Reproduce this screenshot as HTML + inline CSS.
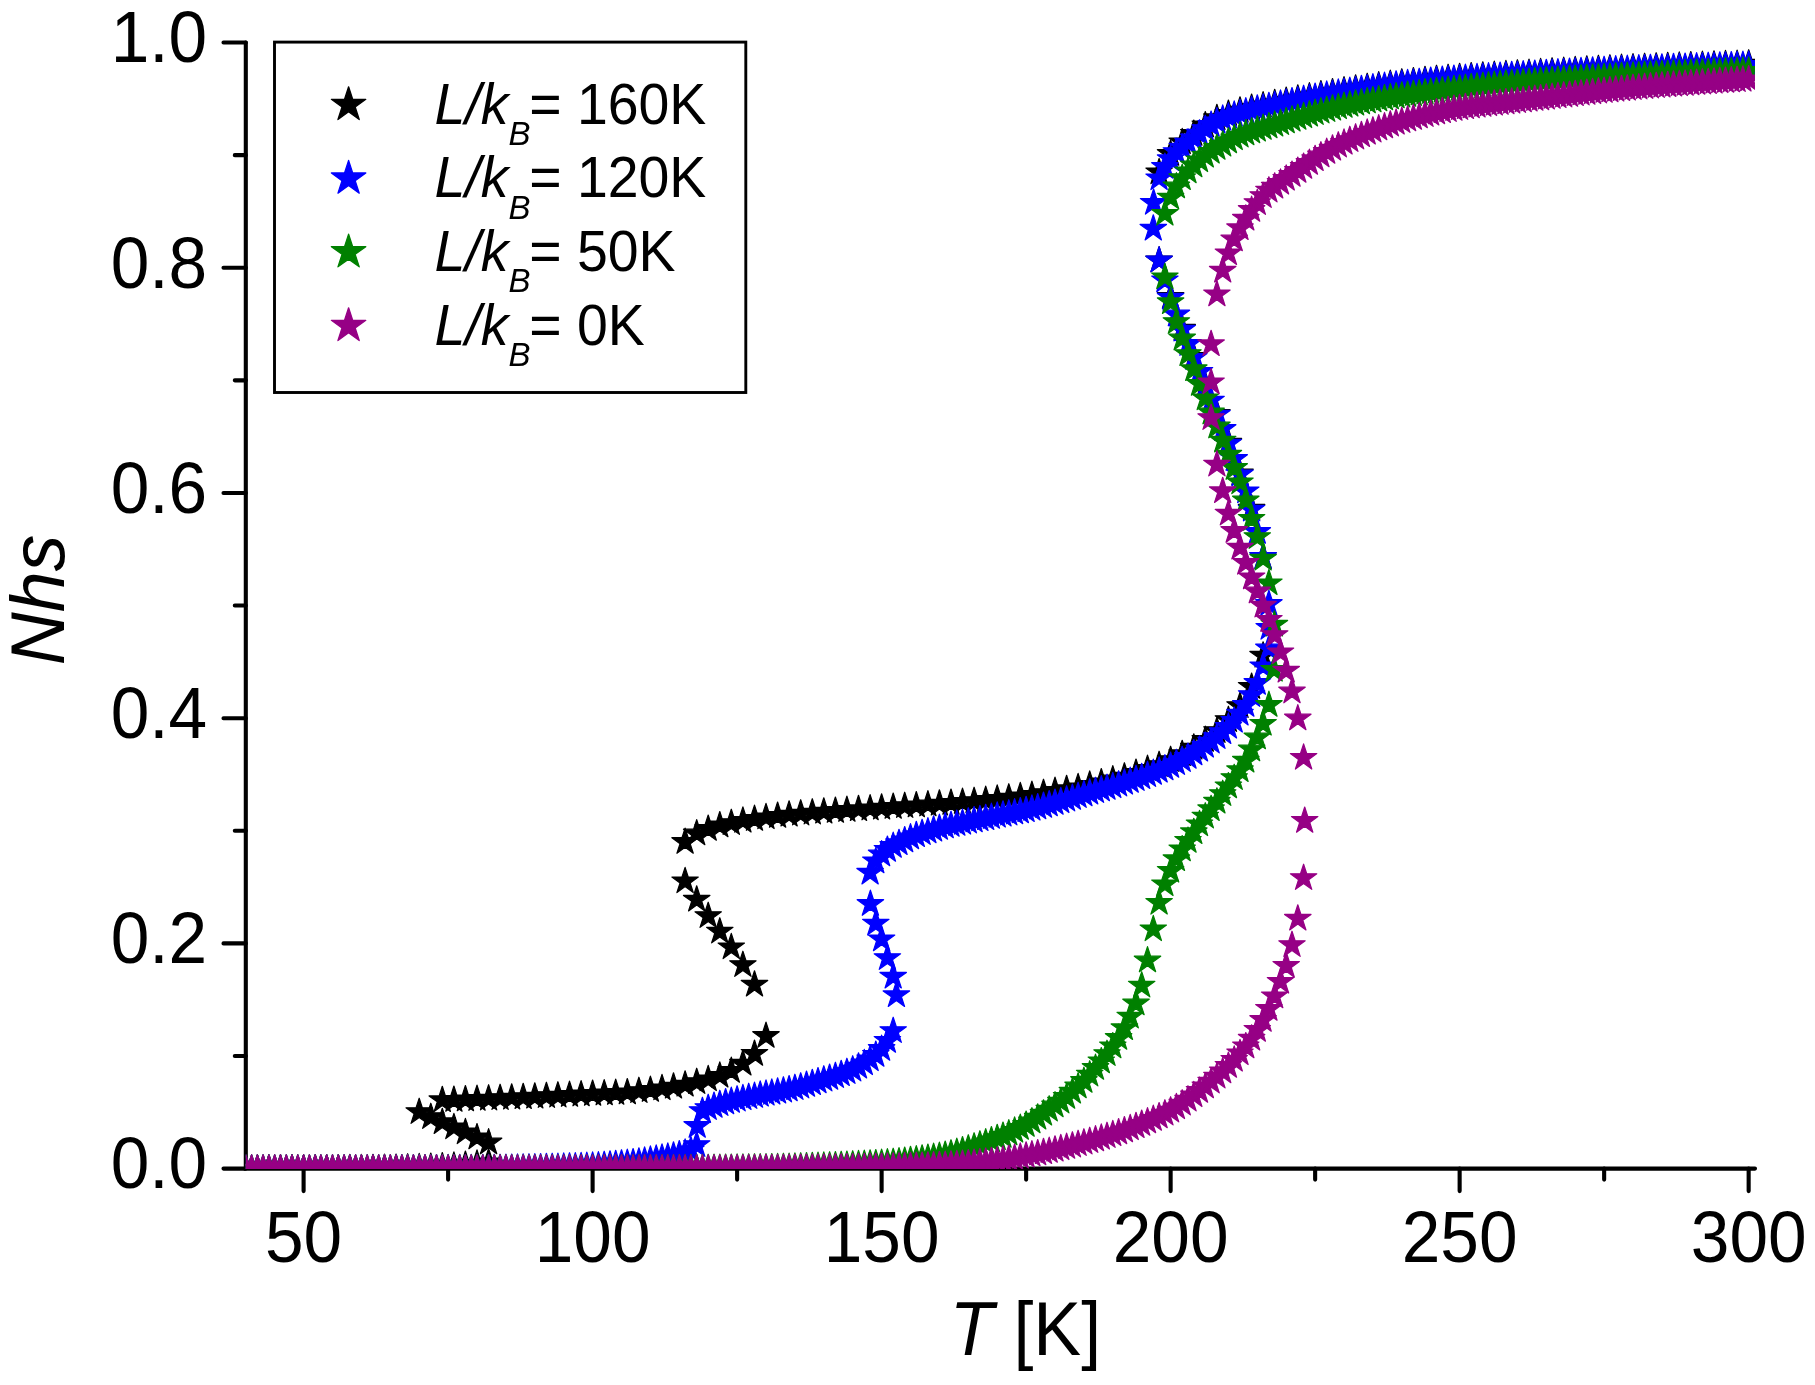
<!DOCTYPE html>
<html lang="en"><head><meta charset="utf-8"><title>Nhs vs T</title>
<style>html,body{margin:0;padding:0;background:#fff}svg{display:block;filter:blur(0.5px)}text{font-family:"Liberation Sans",Arial,Helvetica,sans-serif;fill:#000}.tk{font-size:69.4px}.tt{font-size:72.8px}.ty{font-size:73.3px}.lg{font-size:55.4px}.sb{font-size:33px}.i{font-style:italic}</style></head><body>
<svg width="1815" height="1385" viewBox="0 0 1815 1385">
<rect width="1815" height="1385" fill="#fff"/>
<defs><polygon id="s" points="0.00,-13.90 3.12,-4.30 13.22,-4.30 5.05,1.64 8.17,11.25 0.00,5.31 -8.17,11.25 -5.05,1.64 -13.22,-4.30 -3.12,-4.30"/><polygon id="L" points="0.00,-18.10 4.06,-5.59 17.21,-5.59 6.58,2.14 10.64,14.64 0.00,6.91 -10.64,14.64 -6.58,2.14 -17.21,-5.59 -4.06,-5.59"/><clipPath id="c"><rect x="245.8" y="42.54" width="1509.2" height="1126.56"/></clipPath></defs>
<g stroke="#000" stroke-width="4.1" stroke-linecap="round" fill="none">
<path d="M245.8 42.54V1168.6H1755.0" stroke-linejoin="miter"/>
<path d="M245.8 1168.60h-22.3M245.8 1055.99h-11.0M245.8 943.39h-22.3M245.8 830.78h-11.0M245.8 718.18h-22.3M245.8 605.57h-11.0M245.8 492.96h-22.3M245.8 380.36h-11.0M245.8 267.75h-22.3M245.8 155.15h-11.0M245.8 42.54h-22.3M303.60 1168.6v22.5M448.11 1168.6v11.0M592.61 1168.6v22.5M737.12 1168.6v11.0M881.62 1168.6v22.5M1026.13 1168.6v11.0M1170.63 1168.6v22.5M1315.14 1168.6v11.0M1459.64 1168.6v22.5M1604.15 1168.6v11.0M1748.65 1168.6v22.5"/>
</g>
<g clip-path="url(#c)" stroke-width="1.2" stroke-linejoin="round">
<g fill="#000000" stroke="#000000">
<use href="#s" x="245.8" y="1168.6"/><use href="#s" x="257.4" y="1168.6"/><use href="#s" x="268.9" y="1168.6"/><use href="#s" x="280.5" y="1168.5"/><use href="#s" x="292" y="1168.5"/><use href="#s" x="303.6" y="1168.5"/><use href="#s" x="315.2" y="1168.5"/><use href="#s" x="326.7" y="1168.4"/><use href="#s" x="338.3" y="1168.4"/><use href="#s" x="349.8" y="1168.3"/><use href="#s" x="361.4" y="1168.3"/><use href="#s" x="373" y="1168.2"/><use href="#s" x="384.5" y="1168"/><use href="#s" x="396.1" y="1167.9"/><use href="#s" x="407.6" y="1167.6"/><use href="#s" x="419.2" y="1167.3"/><use href="#s" x="430.8" y="1166.9"/><use href="#s" x="442.3" y="1166.4"/><use href="#s" x="453.9" y="1165.8"/><use href="#s" x="465.4" y="1164.9"/><use href="#s" x="477" y="1163.8"/><use href="#s" x="488.6" y="1162.3"/><use href="#s" x="488.6" y="1142.5"/><use href="#s" x="477" y="1137.4"/><use href="#s" x="465.4" y="1132.3"/><use href="#s" x="453.9" y="1127.3"/><use href="#s" x="442.3" y="1122.2"/><use href="#s" x="430.8" y="1117.1"/><use href="#s" x="419.2" y="1112.1"/><use href="#s" x="442.3" y="1100.2"/><use href="#s" x="453.9" y="1099.9"/><use href="#s" x="465.4" y="1099.4"/><use href="#s" x="477" y="1099"/><use href="#s" x="488.6" y="1098.6"/><use href="#s" x="500.1" y="1098.1"/><use href="#s" x="511.7" y="1097.7"/><use href="#s" x="523.2" y="1097.2"/><use href="#s" x="534.8" y="1096.7"/><use href="#s" x="546.4" y="1096.1"/><use href="#s" x="557.9" y="1095.6"/><use href="#s" x="569.5" y="1095"/><use href="#s" x="581.1" y="1094.5"/><use href="#s" x="592.6" y="1093.9"/><use href="#s" x="604.2" y="1093.5"/><use href="#s" x="615.7" y="1093"/><use href="#s" x="627.3" y="1092.4"/><use href="#s" x="638.9" y="1091.1"/><use href="#s" x="650.4" y="1090"/><use href="#s" x="662" y="1088.3"/><use href="#s" x="673.5" y="1086.7"/><use href="#s" x="685.1" y="1084.7"/><use href="#s" x="696.7" y="1082.1"/><use href="#s" x="708.2" y="1079.3"/><use href="#s" x="719.8" y="1075.8"/><use href="#s" x="731.3" y="1071"/><use href="#s" x="742.9" y="1063.7"/><use href="#s" x="754.5" y="1053.9"/><use href="#s" x="766" y="1036"/><use href="#s" x="754.5" y="984.7"/><use href="#s" x="742.9" y="965.1"/><use href="#s" x="731.3" y="947.3"/><use href="#s" x="719.8" y="931.6"/><use href="#s" x="708.2" y="916.1"/><use href="#s" x="696.7" y="899.7"/><use href="#s" x="685.1" y="881.3"/><use href="#s" x="685.1" y="842"/><use href="#s" x="696.7" y="833.5"/><use href="#s" x="708.2" y="828.9"/><use href="#s" x="719.8" y="825.4"/><use href="#s" x="731.3" y="823.1"/><use href="#s" x="742.9" y="820.8"/><use href="#s" x="754.5" y="819"/><use href="#s" x="766" y="817.3"/><use href="#s" x="777.6" y="815.9"/><use href="#s" x="789.1" y="814.7"/><use href="#s" x="800.7" y="813.6"/><use href="#s" x="812.3" y="812.6"/><use href="#s" x="823.8" y="811.7"/><use href="#s" x="835.4" y="810.9"/><use href="#s" x="846.9" y="810"/><use href="#s" x="858.5" y="809.2"/><use href="#s" x="870.1" y="808.5"/><use href="#s" x="881.6" y="807.7"/><use href="#s" x="893.2" y="806.9"/><use href="#s" x="904.7" y="806.1"/><use href="#s" x="916.3" y="805.4"/><use href="#s" x="927.9" y="804.5"/><use href="#s" x="939.4" y="803.7"/><use href="#s" x="951" y="802.9"/><use href="#s" x="962.5" y="802"/><use href="#s" x="974.1" y="801.1"/><use href="#s" x="985.7" y="800"/><use href="#s" x="997.2" y="798.8"/><use href="#s" x="1008.8" y="797.6"/><use href="#s" x="1020.3" y="796.3"/><use href="#s" x="1031.9" y="795"/><use href="#s" x="1043.5" y="793.1"/><use href="#s" x="1055" y="791"/><use href="#s" x="1066.6" y="789.2"/><use href="#s" x="1078.1" y="787.3"/><use href="#s" x="1089.7" y="784.8"/><use href="#s" x="1101.3" y="782.4"/><use href="#s" x="1112.8" y="779.5"/><use href="#s" x="1124.4" y="776.6"/><use href="#s" x="1136" y="772.9"/><use href="#s" x="1147.5" y="769"/><use href="#s" x="1159.1" y="765.1"/><use href="#s" x="1170.6" y="760.1"/><use href="#s" x="1182.2" y="754.2"/><use href="#s" x="1193.8" y="747.7"/><use href="#s" x="1205.3" y="740"/><use href="#s" x="1216.9" y="731.1"/><use href="#s" x="1228.4" y="720.1"/><use href="#s" x="1240" y="706.1"/><use href="#s" x="1251.6" y="686.9"/><use href="#s" x="1263.1" y="655.7"/><use href="#s" x="1263.1" y="557.1"/><use href="#s" x="1251.6" y="508.7"/><use href="#s" x="1240" y="473.5"/><use href="#s" x="1228.4" y="442.7"/><use href="#s" x="1216.9" y="413.8"/><use href="#s" x="1205.3" y="385.3"/><use href="#s" x="1193.8" y="356.9"/><use href="#s" x="1182.2" y="328.7"/><use href="#s" x="1170.6" y="296.8"/><use href="#s" x="1159.1" y="260.5"/><use href="#s" x="1159.1" y="172.3"/><use href="#s" x="1170.6" y="154"/><use href="#s" x="1182.2" y="142.3"/><use href="#s" x="1193.8" y="133.9"/><use href="#s" x="1205.3" y="125.4"/><use href="#s" x="1216.9" y="118.2"/><use href="#s" x="1228.4" y="113.9"/><use href="#s" x="1240" y="110.7"/><use href="#s" x="1251.6" y="107.9"/><use href="#s" x="1263.1" y="105.5"/><use href="#s" x="1274.7" y="103.2"/><use href="#s" x="1286.2" y="100.9"/><use href="#s" x="1297.8" y="98.7"/><use href="#s" x="1309.4" y="96.5"/><use href="#s" x="1320.9" y="94.4"/><use href="#s" x="1332.5" y="92.4"/><use href="#s" x="1344" y="90.5"/><use href="#s" x="1355.6" y="88.7"/><use href="#s" x="1367.2" y="87.1"/><use href="#s" x="1378.7" y="85.5"/><use href="#s" x="1390.3" y="84"/><use href="#s" x="1401.8" y="82.6"/><use href="#s" x="1413.4" y="81.4"/><use href="#s" x="1425" y="80.2"/><use href="#s" x="1436.5" y="79.1"/><use href="#s" x="1448.1" y="78.1"/><use href="#s" x="1459.6" y="77.2"/><use href="#s" x="1471.2" y="76.4"/><use href="#s" x="1482.8" y="75.7"/><use href="#s" x="1494.3" y="75"/><use href="#s" x="1505.9" y="74.3"/><use href="#s" x="1517.4" y="73.6"/><use href="#s" x="1529" y="73"/><use href="#s" x="1540.6" y="72.3"/><use href="#s" x="1552.1" y="71.6"/><use href="#s" x="1563.7" y="71"/><use href="#s" x="1575.2" y="70.3"/><use href="#s" x="1586.8" y="69.7"/><use href="#s" x="1598.4" y="69.1"/><use href="#s" x="1609.9" y="68.6"/><use href="#s" x="1621.5" y="68"/><use href="#s" x="1633" y="67.5"/><use href="#s" x="1644.6" y="67.1"/><use href="#s" x="1656.2" y="66.6"/><use href="#s" x="1667.7" y="66.2"/><use href="#s" x="1679.3" y="65.8"/><use href="#s" x="1690.8" y="65.4"/><use href="#s" x="1702.4" y="65"/><use href="#s" x="1714" y="64.7"/><use href="#s" x="1725.5" y="64.3"/><use href="#s" x="1737.1" y="64"/><use href="#s" x="1748.7" y="63.6"/>
</g>
<g fill="#0000ff" stroke="#0000ff">
<use href="#s" x="245.8" y="1168.6"/><use href="#s" x="251.6" y="1168.6"/><use href="#s" x="257.4" y="1168.6"/><use href="#s" x="263.1" y="1168.6"/><use href="#s" x="268.9" y="1168.6"/><use href="#s" x="274.7" y="1168.6"/><use href="#s" x="280.5" y="1168.6"/><use href="#s" x="286.3" y="1168.6"/><use href="#s" x="292" y="1168.6"/><use href="#s" x="297.8" y="1168.6"/><use href="#s" x="303.6" y="1168.6"/><use href="#s" x="309.4" y="1168.6"/><use href="#s" x="315.2" y="1168.6"/><use href="#s" x="320.9" y="1168.6"/><use href="#s" x="326.7" y="1168.6"/><use href="#s" x="332.5" y="1168.5"/><use href="#s" x="338.3" y="1168.5"/><use href="#s" x="344.1" y="1168.5"/><use href="#s" x="349.8" y="1168.5"/><use href="#s" x="355.6" y="1168.5"/><use href="#s" x="361.4" y="1168.5"/><use href="#s" x="367.2" y="1168.5"/><use href="#s" x="373" y="1168.5"/><use href="#s" x="378.7" y="1168.5"/><use href="#s" x="384.5" y="1168.5"/><use href="#s" x="390.3" y="1168.5"/><use href="#s" x="396.1" y="1168.5"/><use href="#s" x="401.9" y="1168.4"/><use href="#s" x="407.6" y="1168.4"/><use href="#s" x="413.4" y="1168.4"/><use href="#s" x="419.2" y="1168.4"/><use href="#s" x="425" y="1168.4"/><use href="#s" x="430.8" y="1168.4"/><use href="#s" x="436.5" y="1168.4"/><use href="#s" x="442.3" y="1168.4"/><use href="#s" x="448.1" y="1168.3"/><use href="#s" x="453.9" y="1168.3"/><use href="#s" x="459.7" y="1168.3"/><use href="#s" x="465.4" y="1168.3"/><use href="#s" x="471.2" y="1168.3"/><use href="#s" x="477" y="1168.3"/><use href="#s" x="482.8" y="1168.2"/><use href="#s" x="488.6" y="1168.2"/><use href="#s" x="494.3" y="1168.1"/><use href="#s" x="500.1" y="1168.1"/><use href="#s" x="505.9" y="1168"/><use href="#s" x="511.7" y="1167.9"/><use href="#s" x="517.5" y="1167.8"/><use href="#s" x="523.2" y="1167.7"/><use href="#s" x="529" y="1167.6"/><use href="#s" x="534.8" y="1167.5"/><use href="#s" x="540.6" y="1167.4"/><use href="#s" x="546.4" y="1167.2"/><use href="#s" x="552.2" y="1167.1"/><use href="#s" x="557.9" y="1167"/><use href="#s" x="563.7" y="1166.8"/><use href="#s" x="569.5" y="1166.6"/><use href="#s" x="575.3" y="1166.5"/><use href="#s" x="581.1" y="1166.3"/><use href="#s" x="586.8" y="1166"/><use href="#s" x="592.6" y="1165.8"/><use href="#s" x="598.4" y="1165.5"/><use href="#s" x="604.2" y="1165.1"/><use href="#s" x="610" y="1164.7"/><use href="#s" x="615.7" y="1164.2"/><use href="#s" x="621.5" y="1163.6"/><use href="#s" x="627.3" y="1163"/><use href="#s" x="633.1" y="1162.4"/><use href="#s" x="638.9" y="1161.7"/><use href="#s" x="644.6" y="1160.8"/><use href="#s" x="650.4" y="1159.8"/><use href="#s" x="656.2" y="1158.8"/><use href="#s" x="662" y="1157.8"/><use href="#s" x="667.8" y="1156.8"/><use href="#s" x="673.5" y="1155.7"/><use href="#s" x="679.3" y="1154.4"/><use href="#s" x="685.1" y="1152.8"/><use href="#s" x="690.9" y="1150.4"/><use href="#s" x="696.7" y="1145.1"/><use href="#s" x="697.2" y="1126"/><use href="#s" x="702.4" y="1111.1"/><use href="#s" x="708.2" y="1108.1"/><use href="#s" x="714" y="1105.9"/><use href="#s" x="719.8" y="1104.1"/><use href="#s" x="725.6" y="1102.4"/><use href="#s" x="731.3" y="1101"/><use href="#s" x="737.1" y="1099.6"/><use href="#s" x="742.9" y="1098.3"/><use href="#s" x="748.7" y="1097.1"/><use href="#s" x="754.5" y="1096"/><use href="#s" x="760.2" y="1094.8"/><use href="#s" x="766" y="1093.8"/><use href="#s" x="771.8" y="1092.8"/><use href="#s" x="777.6" y="1091.7"/><use href="#s" x="783.4" y="1090.6"/><use href="#s" x="789.1" y="1089.4"/><use href="#s" x="794.9" y="1088.1"/><use href="#s" x="800.7" y="1086.6"/><use href="#s" x="806.5" y="1084.9"/><use href="#s" x="812.3" y="1083.2"/><use href="#s" x="818" y="1081.4"/><use href="#s" x="823.8" y="1079.6"/><use href="#s" x="829.6" y="1077.9"/><use href="#s" x="835.4" y="1076.1"/><use href="#s" x="841.2" y="1074.2"/><use href="#s" x="846.9" y="1072.1"/><use href="#s" x="852.7" y="1069.6"/><use href="#s" x="858.5" y="1066.7"/><use href="#s" x="864.3" y="1063.3"/><use href="#s" x="870.1" y="1059.3"/><use href="#s" x="875.8" y="1054.9"/><use href="#s" x="881.6" y="1049"/><use href="#s" x="887.4" y="1040.9"/><use href="#s" x="893.2" y="1031.1"/><use href="#s" x="896.4" y="995.2"/><use href="#s" x="893.2" y="976.7"/><use href="#s" x="887.4" y="958.1"/><use href="#s" x="881.6" y="939.4"/><use href="#s" x="875.8" y="923.6"/><use href="#s" x="870.4" y="904"/><use href="#s" x="870.1" y="872.7"/><use href="#s" x="875.8" y="861.4"/><use href="#s" x="881.6" y="854.5"/><use href="#s" x="887.4" y="849.9"/><use href="#s" x="893.2" y="846"/><use href="#s" x="899" y="843.2"/><use href="#s" x="904.7" y="840.4"/><use href="#s" x="910.5" y="837.5"/><use href="#s" x="916.3" y="835.2"/><use href="#s" x="922.1" y="833.1"/><use href="#s" x="927.9" y="831.5"/><use href="#s" x="933.6" y="829.7"/><use href="#s" x="939.4" y="828"/><use href="#s" x="945.2" y="826.4"/><use href="#s" x="951" y="825"/><use href="#s" x="956.8" y="823.9"/><use href="#s" x="962.5" y="822.8"/><use href="#s" x="968.3" y="821.6"/><use href="#s" x="974.1" y="820.4"/><use href="#s" x="979.9" y="819.3"/><use href="#s" x="985.7" y="818.2"/><use href="#s" x="991.4" y="817"/><use href="#s" x="997.2" y="815.8"/><use href="#s" x="1003" y="814.7"/><use href="#s" x="1008.8" y="813.6"/><use href="#s" x="1014.6" y="812.5"/><use href="#s" x="1020.3" y="811.4"/><use href="#s" x="1026.1" y="810.2"/><use href="#s" x="1031.9" y="808.8"/><use href="#s" x="1037.7" y="807.4"/><use href="#s" x="1043.5" y="805.9"/><use href="#s" x="1049.2" y="804.4"/><use href="#s" x="1055" y="802.9"/><use href="#s" x="1060.8" y="801.3"/><use href="#s" x="1066.6" y="799.6"/><use href="#s" x="1072.4" y="797.9"/><use href="#s" x="1078.1" y="796.1"/><use href="#s" x="1083.9" y="794.4"/><use href="#s" x="1089.7" y="792.7"/><use href="#s" x="1095.5" y="791.1"/><use href="#s" x="1101.3" y="789.5"/><use href="#s" x="1107" y="788"/><use href="#s" x="1112.8" y="786.3"/><use href="#s" x="1118.6" y="784.6"/><use href="#s" x="1124.4" y="782.8"/><use href="#s" x="1130.2" y="781"/><use href="#s" x="1136" y="779.1"/><use href="#s" x="1141.7" y="777.2"/><use href="#s" x="1147.5" y="775.1"/><use href="#s" x="1153.3" y="773"/><use href="#s" x="1159.1" y="770.8"/><use href="#s" x="1164.9" y="768.5"/><use href="#s" x="1170.6" y="765.9"/><use href="#s" x="1176.4" y="763.1"/><use href="#s" x="1182.2" y="760.1"/><use href="#s" x="1188" y="756.9"/><use href="#s" x="1193.8" y="753.4"/><use href="#s" x="1199.5" y="749.7"/><use href="#s" x="1205.3" y="745.8"/><use href="#s" x="1211.1" y="741.6"/><use href="#s" x="1216.9" y="737.1"/><use href="#s" x="1222.7" y="732.2"/><use href="#s" x="1228.4" y="726.8"/><use href="#s" x="1234.2" y="720.8"/><use href="#s" x="1240" y="713.7"/><use href="#s" x="1245.8" y="705"/><use href="#s" x="1251.6" y="695.1"/><use href="#s" x="1257.3" y="683"/><use href="#s" x="1263.1" y="666.4"/><use href="#s" x="1268.9" y="648.5"/><use href="#s" x="1269.2" y="627.8"/><use href="#s" x="1268.9" y="604"/><use href="#s" x="1263.1" y="557"/><use href="#s" x="1257.3" y="532"/><use href="#s" x="1251.6" y="509.6"/><use href="#s" x="1245.8" y="491.3"/><use href="#s" x="1240" y="474.4"/><use href="#s" x="1234.2" y="459"/><use href="#s" x="1228.4" y="443.6"/><use href="#s" x="1222.7" y="429"/><use href="#s" x="1216.9" y="414.7"/><use href="#s" x="1211.1" y="400.6"/><use href="#s" x="1205.3" y="386.2"/><use href="#s" x="1199.5" y="371.9"/><use href="#s" x="1193.8" y="357.8"/><use href="#s" x="1188" y="344"/><use href="#s" x="1182.2" y="329.6"/><use href="#s" x="1176.4" y="314.5"/><use href="#s" x="1170.6" y="297.7"/><use href="#s" x="1164.9" y="280.4"/><use href="#s" x="1159.1" y="260.5"/><use href="#s" x="1153.3" y="228.7"/><use href="#s" x="1153.6" y="202.8"/><use href="#s" x="1159.1" y="178.3"/><use href="#s" x="1164.9" y="167"/><use href="#s" x="1170.6" y="159.2"/><use href="#s" x="1176.4" y="152.1"/><use href="#s" x="1182.2" y="147.6"/><use href="#s" x="1188" y="142.7"/><use href="#s" x="1193.8" y="138.3"/><use href="#s" x="1199.5" y="133.6"/><use href="#s" x="1205.3" y="129.1"/><use href="#s" x="1211.1" y="124.9"/><use href="#s" x="1216.9" y="121.4"/><use href="#s" x="1222.7" y="118.8"/><use href="#s" x="1228.4" y="116.6"/><use href="#s" x="1234.2" y="114.8"/><use href="#s" x="1240" y="113.1"/><use href="#s" x="1245.8" y="111.5"/><use href="#s" x="1251.6" y="110"/><use href="#s" x="1257.3" y="108.7"/><use href="#s" x="1263.1" y="107.5"/><use href="#s" x="1268.9" y="106.2"/><use href="#s" x="1274.7" y="105"/><use href="#s" x="1280.5" y="103.8"/><use href="#s" x="1286.2" y="102.6"/><use href="#s" x="1292" y="101.4"/><use href="#s" x="1297.8" y="100.3"/><use href="#s" x="1303.6" y="99.1"/><use href="#s" x="1309.4" y="98"/><use href="#s" x="1315.1" y="96.9"/><use href="#s" x="1320.9" y="95.8"/><use href="#s" x="1326.7" y="94.8"/><use href="#s" x="1332.5" y="93.8"/><use href="#s" x="1338.3" y="92.8"/><use href="#s" x="1344" y="91.9"/><use href="#s" x="1349.8" y="91"/><use href="#s" x="1355.6" y="90.1"/><use href="#s" x="1361.4" y="89.2"/><use href="#s" x="1367.2" y="88.4"/><use href="#s" x="1372.9" y="87.5"/><use href="#s" x="1378.7" y="86.8"/><use href="#s" x="1384.5" y="86"/><use href="#s" x="1390.3" y="85.3"/><use href="#s" x="1396.1" y="84.6"/><use href="#s" x="1401.8" y="83.9"/><use href="#s" x="1407.6" y="83.3"/><use href="#s" x="1413.4" y="82.6"/><use href="#s" x="1419.2" y="82.1"/><use href="#s" x="1425" y="81.5"/><use href="#s" x="1430.7" y="80.9"/><use href="#s" x="1436.5" y="80.4"/><use href="#s" x="1442.3" y="79.9"/><use href="#s" x="1448.1" y="79.4"/><use href="#s" x="1453.9" y="78.9"/><use href="#s" x="1459.6" y="78.5"/><use href="#s" x="1465.4" y="78"/><use href="#s" x="1471.2" y="77.6"/><use href="#s" x="1477" y="77.3"/><use href="#s" x="1482.8" y="76.9"/><use href="#s" x="1488.5" y="76.5"/><use href="#s" x="1494.3" y="76.2"/><use href="#s" x="1500.1" y="75.9"/><use href="#s" x="1505.9" y="75.5"/><use href="#s" x="1511.7" y="75.2"/><use href="#s" x="1517.4" y="74.9"/><use href="#s" x="1523.2" y="74.5"/><use href="#s" x="1529" y="74.2"/><use href="#s" x="1534.8" y="73.9"/><use href="#s" x="1540.6" y="73.5"/><use href="#s" x="1546.3" y="73.2"/><use href="#s" x="1552.1" y="72.9"/><use href="#s" x="1557.9" y="72.5"/><use href="#s" x="1563.7" y="72.2"/><use href="#s" x="1569.5" y="71.9"/><use href="#s" x="1575.2" y="71.6"/><use href="#s" x="1581" y="71.3"/><use href="#s" x="1586.8" y="71"/><use href="#s" x="1592.6" y="70.7"/><use href="#s" x="1598.4" y="70.4"/><use href="#s" x="1604.1" y="70.1"/><use href="#s" x="1609.9" y="69.8"/><use href="#s" x="1615.7" y="69.5"/><use href="#s" x="1621.5" y="69.3"/><use href="#s" x="1627.3" y="69"/><use href="#s" x="1633" y="68.8"/><use href="#s" x="1638.8" y="68.5"/><use href="#s" x="1644.6" y="68.3"/><use href="#s" x="1650.4" y="68.1"/><use href="#s" x="1656.2" y="67.9"/><use href="#s" x="1661.9" y="67.7"/><use href="#s" x="1667.7" y="67.5"/><use href="#s" x="1673.5" y="67.2"/><use href="#s" x="1679.3" y="67"/><use href="#s" x="1685.1" y="66.9"/><use href="#s" x="1690.8" y="66.7"/><use href="#s" x="1696.6" y="66.5"/><use href="#s" x="1702.4" y="66.3"/><use href="#s" x="1708.2" y="66.1"/><use href="#s" x="1714" y="65.9"/><use href="#s" x="1719.8" y="65.7"/><use href="#s" x="1725.5" y="65.6"/><use href="#s" x="1731.3" y="65.4"/><use href="#s" x="1737.1" y="65.2"/><use href="#s" x="1742.9" y="65"/><use href="#s" x="1748.7" y="64.8"/>
</g>
<g fill="#008000" stroke="#008000">
<use href="#s" x="245.8" y="1168.6"/><use href="#s" x="251.6" y="1168.6"/><use href="#s" x="257.4" y="1168.6"/><use href="#s" x="263.1" y="1168.6"/><use href="#s" x="268.9" y="1168.6"/><use href="#s" x="274.7" y="1168.6"/><use href="#s" x="280.5" y="1168.6"/><use href="#s" x="286.3" y="1168.6"/><use href="#s" x="292" y="1168.6"/><use href="#s" x="297.8" y="1168.6"/><use href="#s" x="303.6" y="1168.6"/><use href="#s" x="309.4" y="1168.6"/><use href="#s" x="315.2" y="1168.6"/><use href="#s" x="320.9" y="1168.6"/><use href="#s" x="326.7" y="1168.6"/><use href="#s" x="332.5" y="1168.6"/><use href="#s" x="338.3" y="1168.6"/><use href="#s" x="344.1" y="1168.6"/><use href="#s" x="349.8" y="1168.6"/><use href="#s" x="355.6" y="1168.6"/><use href="#s" x="361.4" y="1168.6"/><use href="#s" x="367.2" y="1168.6"/><use href="#s" x="373" y="1168.6"/><use href="#s" x="378.7" y="1168.6"/><use href="#s" x="384.5" y="1168.6"/><use href="#s" x="390.3" y="1168.6"/><use href="#s" x="396.1" y="1168.6"/><use href="#s" x="401.9" y="1168.6"/><use href="#s" x="407.6" y="1168.6"/><use href="#s" x="413.4" y="1168.6"/><use href="#s" x="419.2" y="1168.6"/><use href="#s" x="425" y="1168.6"/><use href="#s" x="430.8" y="1168.6"/><use href="#s" x="436.5" y="1168.6"/><use href="#s" x="442.3" y="1168.5"/><use href="#s" x="448.1" y="1168.5"/><use href="#s" x="453.9" y="1168.5"/><use href="#s" x="459.7" y="1168.5"/><use href="#s" x="465.4" y="1168.5"/><use href="#s" x="471.2" y="1168.5"/><use href="#s" x="477" y="1168.5"/><use href="#s" x="482.8" y="1168.5"/><use href="#s" x="488.6" y="1168.5"/><use href="#s" x="494.3" y="1168.5"/><use href="#s" x="500.1" y="1168.5"/><use href="#s" x="505.9" y="1168.5"/><use href="#s" x="511.7" y="1168.5"/><use href="#s" x="517.5" y="1168.5"/><use href="#s" x="523.2" y="1168.5"/><use href="#s" x="529" y="1168.5"/><use href="#s" x="534.8" y="1168.5"/><use href="#s" x="540.6" y="1168.5"/><use href="#s" x="546.4" y="1168.5"/><use href="#s" x="552.2" y="1168.5"/><use href="#s" x="557.9" y="1168.5"/><use href="#s" x="563.7" y="1168.5"/><use href="#s" x="569.5" y="1168.5"/><use href="#s" x="575.3" y="1168.5"/><use href="#s" x="581.1" y="1168.4"/><use href="#s" x="586.8" y="1168.4"/><use href="#s" x="592.6" y="1168.4"/><use href="#s" x="598.4" y="1168.4"/><use href="#s" x="604.2" y="1168.4"/><use href="#s" x="610" y="1168.4"/><use href="#s" x="615.7" y="1168.4"/><use href="#s" x="621.5" y="1168.4"/><use href="#s" x="627.3" y="1168.4"/><use href="#s" x="633.1" y="1168.4"/><use href="#s" x="638.9" y="1168.4"/><use href="#s" x="644.6" y="1168.4"/><use href="#s" x="650.4" y="1168.4"/><use href="#s" x="656.2" y="1168.4"/><use href="#s" x="662" y="1168.4"/><use href="#s" x="667.8" y="1168.3"/><use href="#s" x="673.5" y="1168.3"/><use href="#s" x="679.3" y="1168.3"/><use href="#s" x="685.1" y="1168.3"/><use href="#s" x="690.9" y="1168.2"/><use href="#s" x="696.7" y="1168.2"/><use href="#s" x="702.4" y="1168.1"/><use href="#s" x="708.2" y="1168.1"/><use href="#s" x="714" y="1168"/><use href="#s" x="719.8" y="1168"/><use href="#s" x="725.6" y="1167.9"/><use href="#s" x="731.3" y="1167.9"/><use href="#s" x="737.1" y="1167.8"/><use href="#s" x="742.9" y="1167.8"/><use href="#s" x="748.7" y="1167.7"/><use href="#s" x="754.5" y="1167.6"/><use href="#s" x="760.2" y="1167.5"/><use href="#s" x="766" y="1167.5"/><use href="#s" x="771.8" y="1167.4"/><use href="#s" x="777.6" y="1167.3"/><use href="#s" x="783.4" y="1167.1"/><use href="#s" x="789.1" y="1167"/><use href="#s" x="794.9" y="1166.8"/><use href="#s" x="800.7" y="1166.6"/><use href="#s" x="806.5" y="1166.4"/><use href="#s" x="812.3" y="1166.2"/><use href="#s" x="818" y="1166"/><use href="#s" x="823.8" y="1165.8"/><use href="#s" x="829.6" y="1165.6"/><use href="#s" x="835.4" y="1165.4"/><use href="#s" x="841.2" y="1165.1"/><use href="#s" x="846.9" y="1164.9"/><use href="#s" x="852.7" y="1164.6"/><use href="#s" x="858.5" y="1164.3"/><use href="#s" x="864.3" y="1164"/><use href="#s" x="870.1" y="1163.7"/><use href="#s" x="875.8" y="1163.4"/><use href="#s" x="881.6" y="1163"/><use href="#s" x="887.4" y="1162.5"/><use href="#s" x="893.2" y="1162.1"/><use href="#s" x="899" y="1161.5"/><use href="#s" x="904.7" y="1160.9"/><use href="#s" x="910.5" y="1160.2"/><use href="#s" x="916.3" y="1159.5"/><use href="#s" x="922.1" y="1158.7"/><use href="#s" x="927.9" y="1157.9"/><use href="#s" x="933.6" y="1157"/><use href="#s" x="939.4" y="1156"/><use href="#s" x="945.2" y="1154.9"/><use href="#s" x="951" y="1153.6"/><use href="#s" x="956.8" y="1152"/><use href="#s" x="962.5" y="1150.4"/><use href="#s" x="968.3" y="1148.6"/><use href="#s" x="974.1" y="1146.6"/><use href="#s" x="979.9" y="1144.6"/><use href="#s" x="985.7" y="1142.5"/><use href="#s" x="991.4" y="1140.4"/><use href="#s" x="997.2" y="1138.2"/><use href="#s" x="1003" y="1135.9"/><use href="#s" x="1008.8" y="1133.5"/><use href="#s" x="1014.6" y="1130.8"/><use href="#s" x="1020.3" y="1128"/><use href="#s" x="1026.1" y="1124.9"/><use href="#s" x="1031.9" y="1121.5"/><use href="#s" x="1037.7" y="1117.7"/><use href="#s" x="1043.5" y="1113.7"/><use href="#s" x="1049.2" y="1109.6"/><use href="#s" x="1055" y="1105.5"/><use href="#s" x="1060.8" y="1101.6"/><use href="#s" x="1066.6" y="1096.9"/><use href="#s" x="1072.4" y="1091.7"/><use href="#s" x="1078.1" y="1086.5"/><use href="#s" x="1083.9" y="1081"/><use href="#s" x="1089.7" y="1074.6"/><use href="#s" x="1095.5" y="1068"/><use href="#s" x="1101.3" y="1061.4"/><use href="#s" x="1107" y="1054.1"/><use href="#s" x="1112.8" y="1046.4"/><use href="#s" x="1118.6" y="1038"/><use href="#s" x="1124.4" y="1028.2"/><use href="#s" x="1130.2" y="1016.6"/><use href="#s" x="1136" y="1003.5"/><use href="#s" x="1141.7" y="985.6"/><use href="#s" x="1147.5" y="960.5"/><use href="#s" x="1153.3" y="929.3"/><use href="#s" x="1159.1" y="902.8"/><use href="#s" x="1164.9" y="884.3"/><use href="#s" x="1170.6" y="870.8"/><use href="#s" x="1176.4" y="859.2"/><use href="#s" x="1182.2" y="849.4"/><use href="#s" x="1188" y="840.9"/><use href="#s" x="1193.8" y="832.2"/><use href="#s" x="1199.5" y="824.3"/><use href="#s" x="1205.3" y="816.6"/><use href="#s" x="1211.1" y="809.2"/><use href="#s" x="1216.9" y="801.7"/><use href="#s" x="1222.7" y="794.1"/><use href="#s" x="1228.4" y="786.4"/><use href="#s" x="1234.2" y="778.1"/><use href="#s" x="1240" y="770.2"/><use href="#s" x="1245.8" y="760.7"/><use href="#s" x="1251.6" y="749.5"/><use href="#s" x="1257.3" y="737.5"/><use href="#s" x="1263.1" y="723.8"/><use href="#s" x="1268.9" y="705"/><use href="#s" x="1274.1" y="669.8"/><use href="#s" x="1274.4" y="624.7"/><use href="#s" x="1268.9" y="583.3"/><use href="#s" x="1263.1" y="558.7"/><use href="#s" x="1257.3" y="537.1"/><use href="#s" x="1251.6" y="518.9"/><use href="#s" x="1245.8" y="500.5"/><use href="#s" x="1240" y="482.3"/><use href="#s" x="1234.2" y="468"/><use href="#s" x="1228.4" y="454.7"/><use href="#s" x="1222.7" y="440.6"/><use href="#s" x="1216.9" y="426.5"/><use href="#s" x="1211.1" y="412.5"/><use href="#s" x="1205.3" y="398.3"/><use href="#s" x="1199.5" y="383.9"/><use href="#s" x="1193.8" y="369.2"/><use href="#s" x="1188" y="354.1"/><use href="#s" x="1182.2" y="338.5"/><use href="#s" x="1176.4" y="322.1"/><use href="#s" x="1170.6" y="302.2"/><use href="#s" x="1164.9" y="277.3"/><use href="#s" x="1164.9" y="213.8"/><use href="#s" x="1170.6" y="197.6"/><use href="#s" x="1176.4" y="186.5"/><use href="#s" x="1182.2" y="178.2"/><use href="#s" x="1188" y="171.4"/><use href="#s" x="1193.8" y="165.5"/><use href="#s" x="1199.5" y="160.3"/><use href="#s" x="1205.3" y="155.7"/><use href="#s" x="1211.1" y="151.8"/><use href="#s" x="1216.9" y="147.9"/><use href="#s" x="1222.7" y="144.7"/><use href="#s" x="1228.4" y="141.4"/><use href="#s" x="1234.2" y="138.3"/><use href="#s" x="1240" y="135.6"/><use href="#s" x="1245.8" y="133.4"/><use href="#s" x="1251.6" y="131.5"/><use href="#s" x="1257.3" y="129.7"/><use href="#s" x="1263.1" y="128"/><use href="#s" x="1268.9" y="126.4"/><use href="#s" x="1274.7" y="124.7"/><use href="#s" x="1280.5" y="123.1"/><use href="#s" x="1286.2" y="121.4"/><use href="#s" x="1292" y="119.7"/><use href="#s" x="1297.8" y="118"/><use href="#s" x="1303.6" y="116.3"/><use href="#s" x="1309.4" y="114.7"/><use href="#s" x="1315.1" y="113.1"/><use href="#s" x="1320.9" y="111.6"/><use href="#s" x="1326.7" y="110.1"/><use href="#s" x="1332.5" y="108.7"/><use href="#s" x="1338.3" y="107.3"/><use href="#s" x="1344" y="106"/><use href="#s" x="1349.8" y="104.8"/><use href="#s" x="1355.6" y="103.7"/><use href="#s" x="1361.4" y="102.5"/><use href="#s" x="1367.2" y="101.4"/><use href="#s" x="1372.9" y="100.4"/><use href="#s" x="1378.7" y="99.4"/><use href="#s" x="1384.5" y="98.4"/><use href="#s" x="1390.3" y="97.4"/><use href="#s" x="1396.1" y="96.5"/><use href="#s" x="1401.8" y="95.7"/><use href="#s" x="1407.6" y="94.9"/><use href="#s" x="1413.4" y="94.1"/><use href="#s" x="1419.2" y="93.4"/><use href="#s" x="1425" y="92.6"/><use href="#s" x="1430.7" y="92"/><use href="#s" x="1436.5" y="91.3"/><use href="#s" x="1442.3" y="90.6"/><use href="#s" x="1448.1" y="90"/><use href="#s" x="1453.9" y="89.3"/><use href="#s" x="1459.6" y="88.7"/><use href="#s" x="1465.4" y="88.1"/><use href="#s" x="1471.2" y="87.4"/><use href="#s" x="1477" y="86.8"/><use href="#s" x="1482.8" y="86.2"/><use href="#s" x="1488.5" y="85.6"/><use href="#s" x="1494.3" y="85"/><use href="#s" x="1500.1" y="84.4"/><use href="#s" x="1505.9" y="83.8"/><use href="#s" x="1511.7" y="83.3"/><use href="#s" x="1517.4" y="82.9"/><use href="#s" x="1523.2" y="82.4"/><use href="#s" x="1529" y="82"/><use href="#s" x="1534.8" y="81.5"/><use href="#s" x="1540.6" y="81.1"/><use href="#s" x="1546.3" y="80.7"/><use href="#s" x="1552.1" y="80.4"/><use href="#s" x="1557.9" y="80"/><use href="#s" x="1563.7" y="79.6"/><use href="#s" x="1569.5" y="79.2"/><use href="#s" x="1575.2" y="78.9"/><use href="#s" x="1581" y="78.6"/><use href="#s" x="1586.8" y="78.2"/><use href="#s" x="1592.6" y="77.9"/><use href="#s" x="1598.4" y="77.6"/><use href="#s" x="1604.1" y="77.3"/><use href="#s" x="1609.9" y="77"/><use href="#s" x="1615.7" y="76.6"/><use href="#s" x="1621.5" y="76.3"/><use href="#s" x="1627.3" y="76.1"/><use href="#s" x="1633" y="75.8"/><use href="#s" x="1638.8" y="75.5"/><use href="#s" x="1644.6" y="75.2"/><use href="#s" x="1650.4" y="74.9"/><use href="#s" x="1656.2" y="74.6"/><use href="#s" x="1661.9" y="74.4"/><use href="#s" x="1667.7" y="74.1"/><use href="#s" x="1673.5" y="73.9"/><use href="#s" x="1679.3" y="73.6"/><use href="#s" x="1685.1" y="73.4"/><use href="#s" x="1690.8" y="73.1"/><use href="#s" x="1696.6" y="72.9"/><use href="#s" x="1702.4" y="72.6"/><use href="#s" x="1708.2" y="72.4"/><use href="#s" x="1714" y="72.2"/><use href="#s" x="1719.8" y="71.9"/><use href="#s" x="1725.5" y="71.7"/><use href="#s" x="1731.3" y="71.5"/><use href="#s" x="1737.1" y="71.3"/><use href="#s" x="1742.9" y="71"/><use href="#s" x="1748.7" y="70.8"/>
</g>
<g fill="#960085" stroke="#960085">
<use href="#s" x="245.8" y="1168.6"/><use href="#s" x="251.6" y="1168.6"/><use href="#s" x="257.4" y="1168.6"/><use href="#s" x="263.1" y="1168.6"/><use href="#s" x="268.9" y="1168.6"/><use href="#s" x="274.7" y="1168.6"/><use href="#s" x="280.5" y="1168.6"/><use href="#s" x="286.3" y="1168.6"/><use href="#s" x="292" y="1168.6"/><use href="#s" x="297.8" y="1168.6"/><use href="#s" x="303.6" y="1168.6"/><use href="#s" x="309.4" y="1168.6"/><use href="#s" x="315.2" y="1168.6"/><use href="#s" x="320.9" y="1168.6"/><use href="#s" x="326.7" y="1168.6"/><use href="#s" x="332.5" y="1168.6"/><use href="#s" x="338.3" y="1168.6"/><use href="#s" x="344.1" y="1168.6"/><use href="#s" x="349.8" y="1168.6"/><use href="#s" x="355.6" y="1168.6"/><use href="#s" x="361.4" y="1168.6"/><use href="#s" x="367.2" y="1168.6"/><use href="#s" x="373" y="1168.6"/><use href="#s" x="378.7" y="1168.6"/><use href="#s" x="384.5" y="1168.6"/><use href="#s" x="390.3" y="1168.6"/><use href="#s" x="396.1" y="1168.6"/><use href="#s" x="401.9" y="1168.6"/><use href="#s" x="407.6" y="1168.6"/><use href="#s" x="413.4" y="1168.6"/><use href="#s" x="419.2" y="1168.6"/><use href="#s" x="425" y="1168.6"/><use href="#s" x="430.8" y="1168.6"/><use href="#s" x="436.5" y="1168.6"/><use href="#s" x="442.3" y="1168.6"/><use href="#s" x="448.1" y="1168.6"/><use href="#s" x="453.9" y="1168.6"/><use href="#s" x="459.7" y="1168.6"/><use href="#s" x="465.4" y="1168.6"/><use href="#s" x="471.2" y="1168.6"/><use href="#s" x="477" y="1168.6"/><use href="#s" x="482.8" y="1168.6"/><use href="#s" x="488.6" y="1168.6"/><use href="#s" x="494.3" y="1168.6"/><use href="#s" x="500.1" y="1168.6"/><use href="#s" x="505.9" y="1168.6"/><use href="#s" x="511.7" y="1168.6"/><use href="#s" x="517.5" y="1168.6"/><use href="#s" x="523.2" y="1168.6"/><use href="#s" x="529" y="1168.6"/><use href="#s" x="534.8" y="1168.6"/><use href="#s" x="540.6" y="1168.6"/><use href="#s" x="546.4" y="1168.6"/><use href="#s" x="552.2" y="1168.6"/><use href="#s" x="557.9" y="1168.6"/><use href="#s" x="563.7" y="1168.6"/><use href="#s" x="569.5" y="1168.5"/><use href="#s" x="575.3" y="1168.5"/><use href="#s" x="581.1" y="1168.5"/><use href="#s" x="586.8" y="1168.5"/><use href="#s" x="592.6" y="1168.5"/><use href="#s" x="598.4" y="1168.5"/><use href="#s" x="604.2" y="1168.5"/><use href="#s" x="610" y="1168.5"/><use href="#s" x="615.7" y="1168.5"/><use href="#s" x="621.5" y="1168.5"/><use href="#s" x="627.3" y="1168.5"/><use href="#s" x="633.1" y="1168.5"/><use href="#s" x="638.9" y="1168.5"/><use href="#s" x="644.6" y="1168.5"/><use href="#s" x="650.4" y="1168.5"/><use href="#s" x="656.2" y="1168.5"/><use href="#s" x="662" y="1168.5"/><use href="#s" x="667.8" y="1168.5"/><use href="#s" x="673.5" y="1168.5"/><use href="#s" x="679.3" y="1168.5"/><use href="#s" x="685.1" y="1168.5"/><use href="#s" x="690.9" y="1168.5"/><use href="#s" x="696.7" y="1168.5"/><use href="#s" x="702.4" y="1168.5"/><use href="#s" x="708.2" y="1168.5"/><use href="#s" x="714" y="1168.5"/><use href="#s" x="719.8" y="1168.5"/><use href="#s" x="725.6" y="1168.5"/><use href="#s" x="731.3" y="1168.4"/><use href="#s" x="737.1" y="1168.4"/><use href="#s" x="742.9" y="1168.4"/><use href="#s" x="748.7" y="1168.3"/><use href="#s" x="754.5" y="1168.3"/><use href="#s" x="760.2" y="1168.3"/><use href="#s" x="766" y="1168.2"/><use href="#s" x="771.8" y="1168.2"/><use href="#s" x="777.6" y="1168.1"/><use href="#s" x="783.4" y="1168.1"/><use href="#s" x="789.1" y="1168"/><use href="#s" x="794.9" y="1168"/><use href="#s" x="800.7" y="1167.9"/><use href="#s" x="806.5" y="1167.9"/><use href="#s" x="812.3" y="1167.8"/><use href="#s" x="818" y="1167.8"/><use href="#s" x="823.8" y="1167.7"/><use href="#s" x="829.6" y="1167.6"/><use href="#s" x="835.4" y="1167.6"/><use href="#s" x="841.2" y="1167.5"/><use href="#s" x="846.9" y="1167.4"/><use href="#s" x="852.7" y="1167.4"/><use href="#s" x="858.5" y="1167.3"/><use href="#s" x="864.3" y="1167.2"/><use href="#s" x="870.1" y="1167.1"/><use href="#s" x="875.8" y="1167"/><use href="#s" x="881.6" y="1166.9"/><use href="#s" x="887.4" y="1166.8"/><use href="#s" x="893.2" y="1166.7"/><use href="#s" x="899" y="1166.5"/><use href="#s" x="904.7" y="1166.4"/><use href="#s" x="910.5" y="1166.2"/><use href="#s" x="916.3" y="1166.1"/><use href="#s" x="922.1" y="1165.9"/><use href="#s" x="927.9" y="1165.7"/><use href="#s" x="933.6" y="1165.5"/><use href="#s" x="939.4" y="1165.2"/><use href="#s" x="945.2" y="1165"/><use href="#s" x="951" y="1164.6"/><use href="#s" x="956.8" y="1164.3"/><use href="#s" x="962.5" y="1163.9"/><use href="#s" x="968.3" y="1163.4"/><use href="#s" x="974.1" y="1162.9"/><use href="#s" x="979.9" y="1162.4"/><use href="#s" x="985.7" y="1161.8"/><use href="#s" x="991.4" y="1161.2"/><use href="#s" x="997.2" y="1160.6"/><use href="#s" x="1003" y="1159.8"/><use href="#s" x="1008.8" y="1158.9"/><use href="#s" x="1014.6" y="1157.9"/><use href="#s" x="1020.3" y="1156.8"/><use href="#s" x="1026.1" y="1155.7"/><use href="#s" x="1031.9" y="1154.5"/><use href="#s" x="1037.7" y="1153.4"/><use href="#s" x="1043.5" y="1152.2"/><use href="#s" x="1049.2" y="1151"/><use href="#s" x="1055" y="1149.7"/><use href="#s" x="1060.8" y="1148.3"/><use href="#s" x="1066.6" y="1147"/><use href="#s" x="1072.4" y="1145.6"/><use href="#s" x="1078.1" y="1144.1"/><use href="#s" x="1083.9" y="1142.6"/><use href="#s" x="1089.7" y="1141.1"/><use href="#s" x="1095.5" y="1139.5"/><use href="#s" x="1101.3" y="1137.8"/><use href="#s" x="1107" y="1136.1"/><use href="#s" x="1112.8" y="1134.3"/><use href="#s" x="1118.6" y="1132.4"/><use href="#s" x="1124.4" y="1130.4"/><use href="#s" x="1130.2" y="1128.3"/><use href="#s" x="1136" y="1126.2"/><use href="#s" x="1141.7" y="1123.9"/><use href="#s" x="1147.5" y="1121.5"/><use href="#s" x="1153.3" y="1119"/><use href="#s" x="1159.1" y="1116.4"/><use href="#s" x="1164.9" y="1113.6"/><use href="#s" x="1170.6" y="1110.6"/><use href="#s" x="1176.4" y="1107.3"/><use href="#s" x="1182.2" y="1103.6"/><use href="#s" x="1188" y="1099.6"/><use href="#s" x="1193.8" y="1095.3"/><use href="#s" x="1199.5" y="1090.9"/><use href="#s" x="1205.3" y="1086.4"/><use href="#s" x="1211.1" y="1081.6"/><use href="#s" x="1216.9" y="1076.6"/><use href="#s" x="1222.7" y="1071.4"/><use href="#s" x="1228.4" y="1065.9"/><use href="#s" x="1234.2" y="1059.8"/><use href="#s" x="1240" y="1053.3"/><use href="#s" x="1245.8" y="1046.4"/><use href="#s" x="1251.6" y="1038.7"/><use href="#s" x="1257.3" y="1029.9"/><use href="#s" x="1263.1" y="1020"/><use href="#s" x="1268.9" y="1008.9"/><use href="#s" x="1274.7" y="996.4"/><use href="#s" x="1280.5" y="981.8"/><use href="#s" x="1286.2" y="965.9"/><use href="#s" x="1292" y="945.1"/><use href="#s" x="1297.8" y="918.7"/><use href="#s" x="1303.6" y="878.1"/><use href="#s" x="1304.7" y="820.9"/><use href="#s" x="1303.6" y="757.8"/><use href="#s" x="1297.8" y="718.5"/><use href="#s" x="1292" y="691.5"/><use href="#s" x="1286.2" y="670.7"/><use href="#s" x="1280.5" y="652.3"/><use href="#s" x="1274.7" y="635.1"/><use href="#s" x="1268.9" y="619.9"/><use href="#s" x="1263.1" y="605.6"/><use href="#s" x="1257.3" y="591.5"/><use href="#s" x="1251.6" y="577.4"/><use href="#s" x="1245.8" y="562.8"/><use href="#s" x="1240" y="547.6"/><use href="#s" x="1234.2" y="531"/><use href="#s" x="1228.4" y="513.6"/><use href="#s" x="1222.7" y="491.2"/><use href="#s" x="1216.9" y="464.6"/><use href="#s" x="1211.1" y="418.1"/><use href="#s" x="1211.1" y="382.4"/><use href="#s" x="1211.1" y="344.2"/><use href="#s" x="1216.9" y="294.4"/><use href="#s" x="1222.7" y="270.7"/><use href="#s" x="1228.4" y="253.3"/><use href="#s" x="1234.2" y="239.5"/><use href="#s" x="1240" y="228.2"/><use href="#s" x="1245.8" y="218.7"/><use href="#s" x="1251.6" y="210"/><use href="#s" x="1257.3" y="203.1"/><use href="#s" x="1263.1" y="196.1"/><use href="#s" x="1268.9" y="190.6"/><use href="#s" x="1274.7" y="186.7"/><use href="#s" x="1280.5" y="182.8"/><use href="#s" x="1286.2" y="178.8"/><use href="#s" x="1292" y="174.9"/><use href="#s" x="1297.8" y="170.9"/><use href="#s" x="1303.6" y="166.9"/><use href="#s" x="1309.4" y="163"/><use href="#s" x="1315.1" y="159.2"/><use href="#s" x="1320.9" y="155.5"/><use href="#s" x="1326.7" y="152"/><use href="#s" x="1332.5" y="148.7"/><use href="#s" x="1338.3" y="145.6"/><use href="#s" x="1344" y="142.8"/><use href="#s" x="1349.8" y="140.1"/><use href="#s" x="1355.6" y="137.6"/><use href="#s" x="1361.4" y="135.2"/><use href="#s" x="1367.2" y="132.8"/><use href="#s" x="1372.9" y="130.6"/><use href="#s" x="1378.7" y="128.5"/><use href="#s" x="1384.5" y="126.5"/><use href="#s" x="1390.3" y="124.6"/><use href="#s" x="1396.1" y="122.8"/><use href="#s" x="1401.8" y="121.1"/><use href="#s" x="1407.6" y="119.5"/><use href="#s" x="1413.4" y="118"/><use href="#s" x="1419.2" y="116.5"/><use href="#s" x="1425" y="115.1"/><use href="#s" x="1430.7" y="113.7"/><use href="#s" x="1436.5" y="112.4"/><use href="#s" x="1442.3" y="111.2"/><use href="#s" x="1448.1" y="110.1"/><use href="#s" x="1453.9" y="109"/><use href="#s" x="1459.6" y="108.1"/><use href="#s" x="1465.4" y="107.2"/><use href="#s" x="1471.2" y="106.4"/><use href="#s" x="1477" y="105.7"/><use href="#s" x="1482.8" y="105"/><use href="#s" x="1488.5" y="104.3"/><use href="#s" x="1494.3" y="103.7"/><use href="#s" x="1500.1" y="103"/><use href="#s" x="1505.9" y="102.4"/><use href="#s" x="1511.7" y="101.8"/><use href="#s" x="1517.4" y="101.1"/><use href="#s" x="1523.2" y="100.4"/><use href="#s" x="1529" y="99.7"/><use href="#s" x="1534.8" y="99"/><use href="#s" x="1540.6" y="98.4"/><use href="#s" x="1546.3" y="97.7"/><use href="#s" x="1552.1" y="97"/><use href="#s" x="1557.9" y="96.3"/><use href="#s" x="1563.7" y="95.6"/><use href="#s" x="1569.5" y="94.9"/><use href="#s" x="1575.2" y="94.2"/><use href="#s" x="1581" y="93.6"/><use href="#s" x="1586.8" y="92.9"/><use href="#s" x="1592.6" y="92.3"/><use href="#s" x="1598.4" y="91.6"/><use href="#s" x="1604.1" y="91"/><use href="#s" x="1609.9" y="90.4"/><use href="#s" x="1615.7" y="89.8"/><use href="#s" x="1621.5" y="89.2"/><use href="#s" x="1627.3" y="88.7"/><use href="#s" x="1633" y="88.1"/><use href="#s" x="1638.8" y="87.6"/><use href="#s" x="1644.6" y="87.1"/><use href="#s" x="1650.4" y="86.6"/><use href="#s" x="1656.2" y="86.1"/><use href="#s" x="1661.9" y="85.7"/><use href="#s" x="1667.7" y="85.2"/><use href="#s" x="1673.5" y="84.7"/><use href="#s" x="1679.3" y="84.3"/><use href="#s" x="1685.1" y="83.9"/><use href="#s" x="1690.8" y="83.4"/><use href="#s" x="1696.6" y="83"/><use href="#s" x="1702.4" y="82.6"/><use href="#s" x="1708.2" y="82.2"/><use href="#s" x="1714" y="81.8"/><use href="#s" x="1719.8" y="81.3"/><use href="#s" x="1725.5" y="80.9"/><use href="#s" x="1731.3" y="80.5"/><use href="#s" x="1737.1" y="80.1"/><use href="#s" x="1742.9" y="79.8"/><use href="#s" x="1748.7" y="79.4"/>
</g>
</g>
<text class="tk" transform="translate(207.2 1188.4) scale(1 1.032)" text-anchor="end">0.0</text>
<text class="tk" transform="translate(207.2 963.2) scale(1 1.032)" text-anchor="end">0.2</text>
<text class="tk" transform="translate(207.2 738.0) scale(1 1.032)" text-anchor="end">0.4</text>
<text class="tk" transform="translate(207.2 512.8) scale(1 1.032)" text-anchor="end">0.6</text>
<text class="tk" transform="translate(207.2 288.4) scale(1 1.032)" text-anchor="end">0.8</text>
<text class="tk" transform="translate(207.2 62.3) scale(1 1.032)" text-anchor="end">1.0</text>
<text class="tk" transform="translate(303.6 1262.1) scale(1 1.032)" text-anchor="middle">50</text>
<text class="tk" transform="translate(592.6 1262.1) scale(1 1.032)" text-anchor="middle">100</text>
<text class="tk" transform="translate(881.6 1262.1) scale(1 1.032)" text-anchor="middle">150</text>
<text class="tk" transform="translate(1170.6 1262.1) scale(1 1.032)" text-anchor="middle">200</text>
<text class="tk" transform="translate(1459.6 1262.1) scale(1 1.032)" text-anchor="middle">250</text>
<text class="tk" transform="translate(1748.7 1262.1) scale(1 1.032)" text-anchor="middle">300</text>
<text class="tt" transform="translate(1025.4 1355.4) scale(0.985 1.032)" text-anchor="middle"><tspan class="i">T</tspan> [K]</text>
<text class="ty i" transform="translate(64.2 600.0) rotate(-90) scale(1 1.032)" text-anchor="middle">Nhs</text>
<rect x="274.5" y="42.1" width="471.3" height="350.4" fill="#fff" stroke="#000" stroke-width="2.9"/>
<use href="#L" x="348.6" y="104.9" fill="#000000" stroke="#000000" stroke-width="1.3" stroke-linejoin="round"/>
<text class="lg" transform="translate(434.5 123.6) scale(1 1.032)" text-anchor="start"><tspan class="i">L/k</tspan><tspan class="sb i" dy="20.8">B</tspan><tspan dy="-20.8" dx="-1.2">= 160K</tspan></text>
<use href="#L" x="348.6" y="178.5" fill="#0000ff" stroke="#0000ff" stroke-width="1.3" stroke-linejoin="round"/>
<text class="lg" transform="translate(434.5 197.2) scale(1 1.032)" text-anchor="start"><tspan class="i">L/k</tspan><tspan class="sb i" dy="20.8">B</tspan><tspan dy="-20.8" dx="-1.2">= 120K</tspan></text>
<use href="#L" x="348.6" y="252.2" fill="#008000" stroke="#008000" stroke-width="1.3" stroke-linejoin="round"/>
<text class="lg" transform="translate(434.5 270.9) scale(1 1.032)" text-anchor="start"><tspan class="i">L/k</tspan><tspan class="sb i" dy="20.8">B</tspan><tspan dy="-20.8" dx="-1.2">= 50K</tspan></text>
<use href="#L" x="348.6" y="325.9" fill="#960085" stroke="#960085" stroke-width="1.3" stroke-linejoin="round"/>
<text class="lg" transform="translate(434.5 344.6) scale(1 1.032)" text-anchor="start"><tspan class="i">L/k</tspan><tspan class="sb i" dy="20.8">B</tspan><tspan dy="-20.8" dx="-1.2">= 0K</tspan></text>
</svg></body></html>
